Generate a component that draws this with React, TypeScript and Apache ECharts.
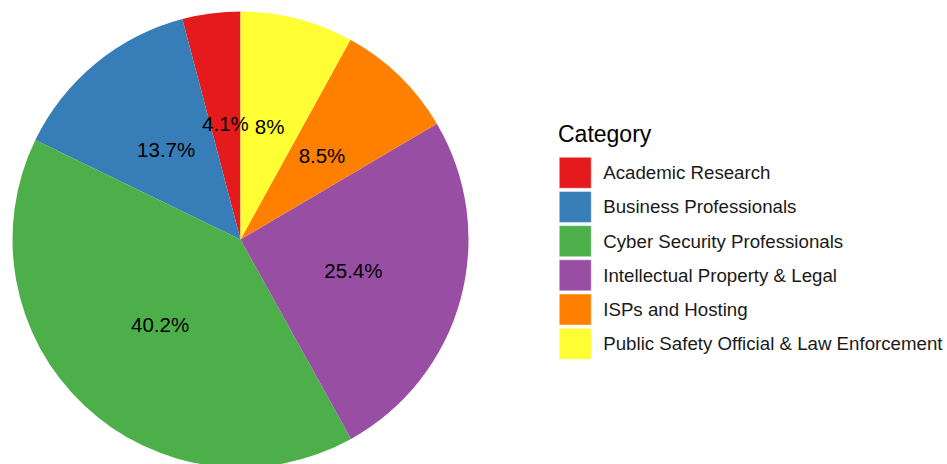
import React, { useEffect, useRef } from "react";
import * as echarts from "echarts";

const categories = [
  "Academic Research",
  "Business Professionals",
  "Cyber Security Professionals",
  "Intellectual Property & Legal",
  "ISPs and Hosting",
  "Public Safety Official & Law Enforcement",
];
const percents = [4.1, 13.7, 40.2, 25.4, 8.5, 8];
const colors = ["#E41A1C", "#377EB8", "#4DAF4A", "#984EA3", "#FF7F00", "#FFFF33"];
const legendTitle = "Category";

export default function App() {
  const ref = useRef<HTMLDivElement>(null);
  useEffect(() => {
    document.body.style.margin = "0";
    if (!ref.current) return;
    const chart = echarts.init(ref.current, undefined, { renderer: "svg" });
    const font = "'Liberation Sans', Arial, Helvetica, sans-serif";
    chart.setOption({
      animation: false,
      backgroundColor: "#ffffff",
      textStyle: { fontFamily: font },
      graphic: [
        {
          type: "text",
          x: 558,
          y: 134,
          style: {
            text: legendTitle,
            fontSize: 23,
            fontFamily: font,
            fill: "#000000",
            textVerticalAlign: "middle",
            verticalAlign: "middle",
          },
        },
      ],
      legend: {
        orient: "vertical",
        left: 559,
        top: 157,
        padding: 0,
        itemWidth: 32,
        itemHeight: 31,
        itemGap: 2.7,
        icon: "rect",
        data: categories,
        itemStyle: { borderColor: "#f2f2f2", borderWidth: 0.5 },
        textStyle: {
          fontSize: 18.7,
          color: "#1a1a1a",
          fontFamily: font,
          padding: [0, 0, 0, 7],
        },
        selectedMode: false,
      },
      series: [
        {
          type: "pie",
          center: [240.5, 239.5],
          radius: [0, 228],
          startAngle: 90,
          clockwise: false,
          avoidLabelOverlap: false,
          label: {
            show: true,
            position: "inside",
            formatter: (p: any) => `${p.value}%`,
            fontSize: 20.5,
            color: "#000000",
            fontFamily: font,
          },
          labelLine: { show: false },
          emphasis: { disabled: true },
          data: categories.map((name, i) => ({
            name,
            value: percents[i],
            itemStyle: { color: colors[i] },
          })),
        },
      ],
    });
    return () => chart.dispose();
  }, []);
  return <div ref={ref} style={{ width: 947, height: 464 }} />;
}
